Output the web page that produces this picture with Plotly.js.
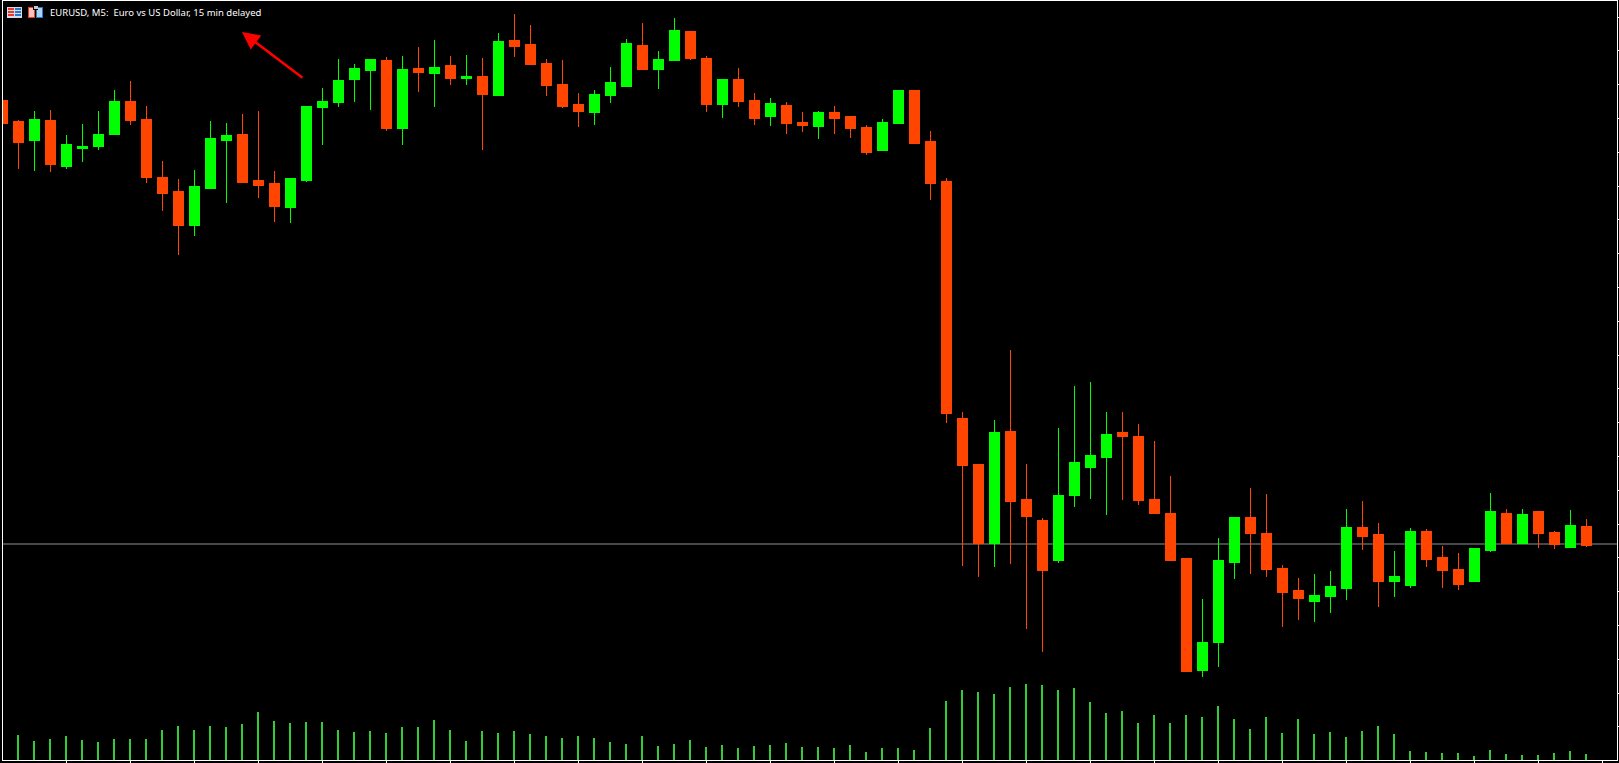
<!DOCTYPE html>
<html><head><meta charset="utf-8">
<script src="https://cdn.plot.ly/plotly-3.0.1.min.js"></script>
<style>html,body{margin:0;padding:0;background:#000;overflow:hidden}#c{width:1619px;height:763px}
.boxlayer path{stroke-linejoin:miter !important;shape-rendering:crispEdges}
.barlayer path{shape-rendering:crispEdges}</style>
</head><body><div id="c"></div>
<script>
// Prices in chart points above the bottom of the window
const open  = [660,639,620,640,594,612,614,626,659,641,583,569,535,572,620,626,580,577,553,580,653,658,681,690,700,632,692,687,695,682,684,665,720,716,697,676,656,648,665,674,715,691,700,729,702,656,681,660,644,655,638,634,648,644,633,610,637,670,619,579,342,296,217,329,261,240,200,265,293,303,328,324,261,247,202,90,118,198,243,227,192,170,159,164,172,233,226,179,175,229,203,191,179,210,247,217,249,228,213,234];
const high  = [660,640,649,650,625,636,649,670,679,654,599,581,590,639,637,646,649,589,582,654,672,701,696,701,703,704,713,720,704,705,702,727,746,735,701,700,667,670,693,721,737,709,742,729,704,681,692,667,662,658,648,649,654,644,635,641,670,670,629,582,348,296,340,410,296,242,332,374,378,348,348,336,319,284,202,161,222,243,272,266,195,182,186,189,251,259,237,209,232,231,214,207,212,267,251,251,249,229,250,241];
const low   = [637,591,589,588,591,598,610,626,635,577,549,505,524,572,557,578,562,538,537,578,615,653,658,650,629,615,668,653,675,675,610,664,703,695,664,652,633,635,657,673,690,671,700,700,648,642,653,635,634,626,628,621,626,622,605,610,637,617,560,337,194,183,193,196,131,108,197,253,261,245,260,255,246,200,89,83,93,181,186,183,133,140,138,147,160,210,153,163,172,193,172,170,179,208,217,216,212,211,213,213];
const close = [637,618,641,596,616,614,626,659,640,583,567,535,574,622,625,578,575,554,582,654,659,680,692,701,632,691,688,693,682,684,666,719,714,696,675,654,649,666,678,717,691,701,730,702,656,681,659,642,657,637,635,648,642,632,608,638,670,617,577,347,295,217,328,259,244,190,265,298,305,326,324,260,247,200,89,118,200,243,227,191,168,162,165,174,233,224,179,184,229,201,190,176,212,249,217,246,227,216,235,215];
const volume = [0,25,19,21,24,20,18,21,21,21,30,34,30,34,33,36,48,39,37,38,38,30,28,29,27,33,33,40,30,19,29,27,29,26,24,22,24,22,18,16,24,14,16,20,13,15,12,14,15,17,13,13,12,15,8,12,12,10,32,59,70,68,66,73,76,75,70,72,58,47,49,37,45,37,45,43,54,41,31,43,27,41,26,28,23,29,34,26,9,8,7,7,4,10,6,5,5,7,9,6];
const lastPrice = 216;
const titleText = "EURUSD, M5:  Euro vs US Dollar, 15 min delayed";
const candleIndex = open.map((_, i) => i);

const W = 1619, H = 763, mL = 3, mR = 2, mT = 1, mB = 3;
const px = x => (x - mL) / (W - mL - mR);
const py = y => 1 - (y - mT) / (H - mT - mB);
function rect(x0, y0, x1, y1, fill) {
  return {type:'rect', xref:'paper', yref:'paper', x0:px(x0), x1:px(x1), y0:py(y0), y1:py(y1),
          fillcolor:fill, line:{width:0}, layer:'above'};
}
const iconShapes = [
  rect(7,7,22,18,'#d9d9e8'),
  rect(8,8,14,10,'#e8392c'), rect(8,11,14,13,'#e8392c'), rect(8,14,14,16,'#e8392c'),
  rect(15,8,21,10,'#2a76c8'), rect(15,11,21,13,'#2a76c8'), rect(15,14,21,16,'#2a76c8'),
  rect(28,7,35,18,'#e8392c'), rect(29,8,34,17,'#f8c4bc'),
  rect(36,7,43,18,'#2a76c8'), rect(37,8,42,17,'#a8d4f2'),
  rect(33,6,38,10,'#000000'), rect(34,6,38,9,'#c8c8c8')
];

const data = [
  {type:'bar', x:candleIndex, y:volume, yaxis:'y2', width:0.125,
   marker:{color:'#32CD32', line:{width:0}}, hoverinfo:'skip', showlegend:false},
  {type:'candlestick', x:candleIndex, open, high, low, close, whiskerwidth:0,
   increasing:{line:{color:'#00FF00', width:1}, fillcolor:'#00FF00'},
   decreasing:{line:{color:'#FF4500', width:1}, fillcolor:'#FF4500'},
   hoverinfo:'skip', showlegend:false}
];

const layout = {
  width:W, height:H, autosize:false,
  margin:{l:mL, r:mR, t:mT, b:mB, pad:0},
  paper_bgcolor:'#000', plot_bgcolor:'#000',
  showlegend:false, boxgap:0.375, boxgroupgap:0,
  xaxis:{range:[0.06, 0.06 + (W - mL - mR) / 16], rangeslider:{visible:false}, showgrid:false, zeroline:false,
         showline:true, linecolor:'#fff', linewidth:1, mirror:true,
         ticks:'outside', ticklen:3, tickcolor:'#fff', tickwidth:1, tick0:0, dtick:4, showticklabels:false},
  yaxis:{range:[0, H - mT - mB], side:'right', showgrid:false, zeroline:false,
         showline:true, linecolor:'#fff', linewidth:1, mirror:true,
         ticks:'outside', ticklen:2, tickcolor:'#fff', tickwidth:1, tick0:33.2, dtick:33.8, showticklabels:false},
  yaxis2:{range:[0, H - mT - mB], overlaying:'y', side:'right', visible:false},
  shapes:[{type:'line', xref:'paper', yref:'y', x0:0, x1:1, y0:lastPrice, y1:lastPrice,
           line:{color:'#8a929c', width:1}, layer:'below'}].concat(iconShapes),
  annotations:[
    {xref:'paper', yref:'paper', x:px(47.5), y:py(12.5), xanchor:'left', yanchor:'middle', showarrow:false,
     text:titleText, font:{family:'"Noto Sans", sans-serif', size:9.5, color:'#fff'}},
    {xref:'paper', yref:'paper', x:px(242), y:py(32), ax:62, ay:47, axref:'pixel', ayref:'pixel', text:'', showarrow:true,
     arrowhead:2, arrowsize:1.4, arrowwidth:2.5, arrowcolor:'#FF0000', standoff:0}
  ]
};
Plotly.newPlot('c', data, layout, {displayModeBar:false, staticPlot:true});
</script></body></html>
